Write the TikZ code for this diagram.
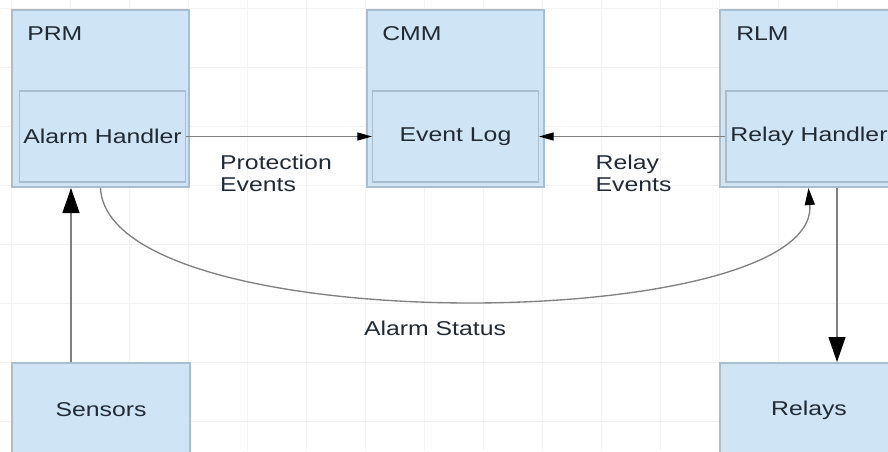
\documentclass[tikz,border=0pt]{standalone}
\usepackage{fontspec}
\setmainfont[FakeStretch=1.24]{Liberation Sans}
\usetikzlibrary{arrows.meta,positioning}
\definecolor{boxfill}{RGB}{207,229,245}
\definecolor{boxline}{RGB}{168,190,206}
\definecolor{inkdark}{RGB}{33,42,52}
\definecolor{wire}{RGB}{128,128,128}
\definecolor{gridgray}{RGB}{243,243,243}
\tikzset{
  modbox/.style={draw=boxline, line width=1.5pt, fill=boxfill,
    minimum width=132.75pt, minimum height=132.75pt, inner sep=0pt},
  handlerbox/.style={draw=boxline, line width=0.8pt, fill=boxfill,
    minimum width=124.5pt, minimum height=68.25pt, inner sep=0pt, text=inkdark, font=\fontsize{15}{16.5}\selectfont},
  devbox/.style={draw=boxline, line width=1.5pt, fill=boxfill,
    minimum width=133.5pt, minimum height=70.5pt, inner sep=0pt, text=inkdark, font=\fontsize{15}{16.5}\selectfont},
  title/.style={anchor=base west, inner sep=0pt, text=inkdark, font=\fontsize{15}{16.5}\selectfont},
  elabel/.style={inner sep=0pt, align=left, text=inkdark, font=\fontsize{15}{16.5}\selectfont},
  flow/.style={draw=wire, line width=1pt, -{Triangle[length=11pt, width=6pt, color=black]}},
  bigflow/.style={draw=wire, line width=1pt, -{Triangle[length=18.75pt, width=12.75pt, color=black]}},
  curveflow/.style={draw=wire, line width=1pt, -{Triangle[length=12.75pt, width=7.5pt, color=black]}},
  gridline/.style={draw=gridgray, line width=0.5pt}
}
\begin{document}
\begin{tikzpicture}[x=0.75pt, y=-0.75pt]
\useasboundingbox (0,0) rectangle (888,451);
% faint background grid
\foreach \gx in {11,70,...,888} \draw[gridline] (\gx,0) -- (\gx,451);
\foreach \gy in {8,67,...,451} \draw[gridline] (0,\gy) -- (888,\gy);

% modules
\node[modbox] (prm) at (100.5,98.5) {};
\node[modbox] (cmm) at (455.5,98.5) {};
\node[modbox] (rlm) at (808.5,98.5) {};
\node[title] (prmtitle) at ([shift={(16,31)}]prm.north west) {PRM};
\node[title] (cmmtitle) at ([shift={(16,31)}]cmm.north west) {CMM};
\node[title] (rlmtitle) at ([shift={(17,31)}]rlm.north west) {RLM};

\node[handlerbox] (alarm) at (102.5,136.5) {Alarm Handler};
\node[handlerbox] (evlog) at (455.5,136.5) {Event Log};
\node[handlerbox] (relayh) at (809,136.5) {Relay Handler};

\node[devbox] (sensors) at (101,410) {Sensors};
\node[devbox] (relays) at (809,410) {Relays};

\draw[flow] (alarm) -- node[elabel, anchor=north west, pos=0.18, yshift=-13.5pt] {Protection\\Events} (evlog);
\draw[flow] (relayh) -- node[elabel, anchor=north west, pos=0.70, yshift=-13.5pt] {Relay\\Events} (evlog);
\draw[bigflow] ([xshift=45pt]sensors.north west) -- ([xshift=45pt]prm.south west);
\draw[bigflow] ([xshift=88.5pt]rlm.south west) -- ([xshift=88.5pt]relays.north west);
\draw[curveflow] (prm.south) .. controls (108,342) and (820,335) .. (rlm.south)
  node[elabel, below=14.5pt, pos=0.475] {Alarm Status};
\end{tikzpicture}
\end{document}
